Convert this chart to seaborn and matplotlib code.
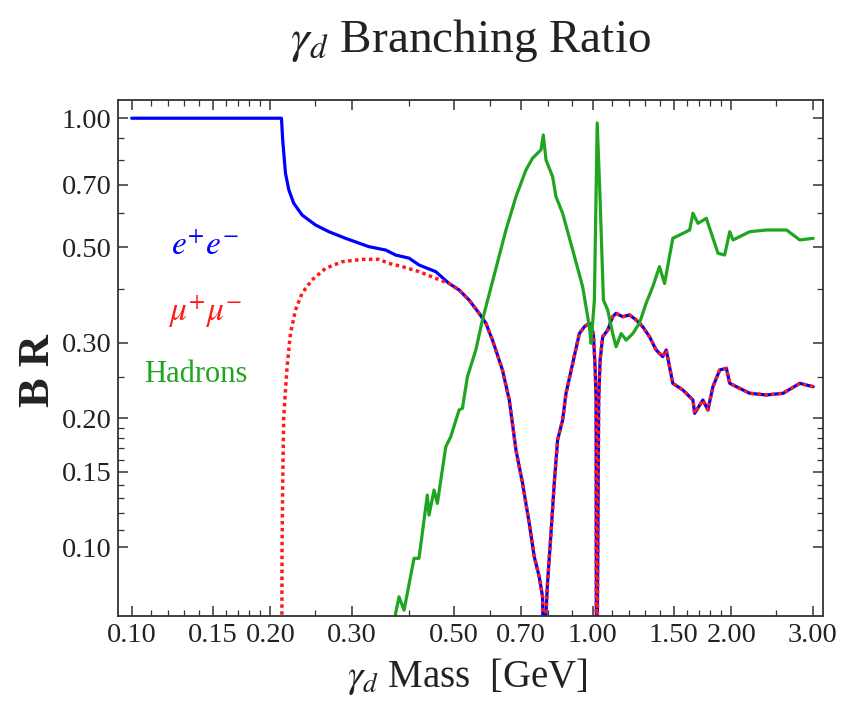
import matplotlib
matplotlib.use("Agg")
import matplotlib.pyplot as plt
import matplotlib.ticker as mticker
import seaborn as sns

# ---- data ----
ee_mass = [0.1, 0.2113, 0.2126, 0.2156, 0.2192, 0.2246, 0.2342, 0.2504, 0.2677, 0.2910,
           0.3270, 0.3556, 0.3737, 0.3996, 0.4200, 0.4566, 0.4881, 0.5131, 0.5393, 0.5672,
           0.5865, 0.6062, 0.6166, 0.6372, 0.6593, 0.6817, 0.7045, 0.7285, 0.7469, 0.7657,
           0.7786, 0.782, 0.792, 0.798, 0.812, 0.8254, 0.8393, 0.8605, 0.8753, 0.905,
           0.9356, 0.9593, 0.9836, 1.0035, 1.012, 1.0172, 1.019, 1.0305, 1.0378, 1.0513,
           1.078, 1.105, 1.124, 1.162, 1.202, 1.243, 1.284, 1.328, 1.373, 1.419,
           1.444, 1.492, 1.569, 1.650, 1.664, 1.734, 1.778, 1.823, 1.886, 1.950,
           1.983, 2.050, 2.191, 2.382, 2.588, 2.814, 3.008]
ee_br = [1.0, 1.0, 0.890, 0.744, 0.681, 0.634, 0.595, 0.564, 0.544, 0.525,
         0.502, 0.493, 0.480, 0.472, 0.455, 0.439, 0.412, 0.398, 0.377, 0.351,
         0.333, 0.304, 0.288, 0.259, 0.2205, 0.1685, 0.141, 0.1137, 0.0951, 0.0854,
         0.0767, 0.05, 0.0703, 0.0825, 0.108, 0.1412, 0.178, 0.198, 0.2286, 0.2685,
         0.315, 0.3267, 0.333, 0.315, 0.2636, 0.2205, 0.03, 0.2205, 0.2733, 0.3097,
         0.3209, 0.3447, 0.351, 0.3447, 0.348, 0.3388, 0.3267, 0.3097, 0.2884, 0.2782,
         0.2884, 0.2411, 0.2326, 0.2205, 0.2053, 0.2205, 0.209, 0.2368, 0.259, 0.2614,
         0.2411, 0.2368, 0.2286, 0.2265, 0.2286, 0.2411, 0.2368]

mm_mass_low = [0.2113, 0.2119, 0.2126, 0.2137, 0.2173, 0.2210, 0.2266, 0.2342, 0.2462,
               0.2633, 0.2861, 0.3162, 0.3438, 0.3614, 0.3864, 0.4200, 0.4566]
mm_br_low = [0.02, 0.0986, 0.141, 0.2016, 0.2636, 0.315, 0.3573, 0.391, 0.42,
             0.447, 0.463, 0.469, 0.469, 0.459, 0.451, 0.439, 0.4236]
# above ~0.49 GeV the muon curve coincides with the electron curve
mm_mass = mm_mass_low + ee_mass[16:]
mm_br = mm_br_low + ee_br[16:]

had_mass = [0.3687, 0.3737, 0.3801, 0.3898, 0.4097, 0.4200, 0.4378, 0.4416, 0.4528, 0.4603,
            0.4801, 0.4922, 0.5131, 0.5217, 0.5349, 0.5578, 0.5766, 0.6062, 0.6484, 0.6817,
            0.7165, 0.7406, 0.7724, 0.7814, 0.7920, 0.8187, 0.8324, 0.8605, 0.9050, 0.9510,
            0.9836, 0.9920, 1.0085, 1.0228, 1.0378, 1.055, 1.078, 1.105, 1.124, 1.153,
            1.182, 1.222, 1.263, 1.306, 1.350, 1.396, 1.432, 1.492, 1.569, 1.623,
            1.650, 1.692, 1.764, 1.809, 1.870, 1.933, 1.983, 2.016, 2.191, 2.382,
            2.633, 2.814, 3.008]
had_br = [0.06, 0.0702, 0.0767, 0.0714, 0.0943, 0.0943, 0.1324, 0.1189, 0.136, 0.1266,
          0.1716, 0.1811, 0.209, 0.2109, 0.2498, 0.2884, 0.3388, 0.416, 0.549, 0.6565,
          0.7575, 0.807, 0.844, 0.914, 0.7996, 0.7307, 0.6565, 0.6006, 0.493, 0.405,
          0.3267, 0.2988, 0.377, 0.975, 0.645, 0.377, 0.3573, 0.315, 0.2935, 0.315,
          0.304, 0.315, 0.333, 0.3705, 0.405, 0.451, 0.412, 0.525, 0.539, 0.549,
          0.6006, 0.569, 0.5845, 0.539, 0.4845, 0.480, 0.544, 0.5204, 0.544, 0.549,
          0.549, 0.5204, 0.525]

x_major = [0.10, 0.15, 0.20, 0.30, 0.50, 0.70, 1.00, 1.50, 2.00, 3.00]
x_minor = [0.11, 0.12, 0.13, 0.14, 0.16, 0.17, 0.18, 0.19, 0.25, 0.4, 0.6, 0.8, 0.9,
           1.1, 1.2, 1.3, 1.4, 1.6, 1.7, 1.8, 1.9, 2.5]
y_major = [0.10, 0.15, 0.20, 0.30, 0.50, 0.70, 1.00]
y_minor = [0.11, 0.12, 0.13, 0.14, 0.16, 0.17, 0.18, 0.19, 0.25, 0.4, 0.6, 0.8, 0.9]

labels = ["$e^{+}e^{-}$", "$\\mu^{+}\\mu^{-}$", "Hadrons"]
colors = ["#0000ff", "#ff1a1a", "#1fa51f"]

# ---- style ----
sns.set_theme(style="ticks")
plt.rcParams['font.family'] = ['Liberation Serif', 'DejaVu Serif']
plt.rcParams['mathtext.fontset'] = 'stix'

fig = plt.figure(figsize=(8.63, 7.04), dpi=100)
ax = fig.add_axes([0.137, 0.1254, 0.8167, 0.7331])

sns.lineplot(x=ee_mass, y=ee_br, ax=ax, color=colors[0], lw=2.3, sort=False, estimator=None)
sns.lineplot(x=mm_mass, y=mm_br, ax=ax, color=colors[1], lw=2.5, sort=False, estimator=None,
             linestyle=(0, (1, 1)))
sns.lineplot(x=had_mass, y=had_br, ax=ax, color=colors[2], lw=2.3, sort=False, estimator=None)

ax.set_xscale('log')
ax.set_yscale('log')
ax.set_xlim(0.0935, 3.16)
ax.set_ylim(0.0693, 1.105)

ax.xaxis.set_major_locator(mticker.FixedLocator(x_major))
ax.xaxis.set_major_formatter(mticker.FixedFormatter(["%.2f" % v for v in x_major]))
ax.xaxis.set_minor_locator(mticker.FixedLocator(x_minor))
ax.xaxis.set_minor_formatter(mticker.NullFormatter())
ax.yaxis.set_major_locator(mticker.FixedLocator(y_major))
ax.yaxis.set_major_formatter(mticker.FixedFormatter(["%.2f" % v for v in y_major]))
ax.yaxis.set_minor_locator(mticker.FixedLocator(y_minor))
ax.yaxis.set_minor_formatter(mticker.NullFormatter())

ax.tick_params(which='both', direction='in', top=True, right=True, colors='#333333',
               labelcolor='#222222')
ax.tick_params(which='major', length=7, width=1.1, labelsize=20.5, pad=5)
ax.tick_params(which='minor', length=4, width=0.9)
for s in ax.spines.values():
    s.set_color('#333333')
    s.set_linewidth(1.3)

ax.set_xlabel("$\\gamma_d$ Mass  [GeV]", fontsize=28, color='#222222')
ax.xaxis.set_label_coords(0.495, -0.078)
ax.set_ylabel("B R", fontsize=32, fontweight='bold', color='#222222')
ax.yaxis.set_label_coords(-0.085, 0.476)

fig.text(0.545, 0.942, "$\\gamma_d$ Branching Ratio", fontsize=34, ha='center', va='center',
         color='#222222')

ax.text(0.123, 0.716, labels[0], transform=ax.transAxes, color=colors[0], fontsize=24,
        ha='center', va='center')
ax.text(0.123, 0.588, labels[1], transform=ax.transAxes, color=colors[1], fontsize=24,
        ha='center', va='center')
ax.text(0.110, 0.468, labels[2], transform=ax.transAxes, color=colors[2], fontsize=22,
        ha='center', va='center')

fig.savefig("out.png", dpi=100)
